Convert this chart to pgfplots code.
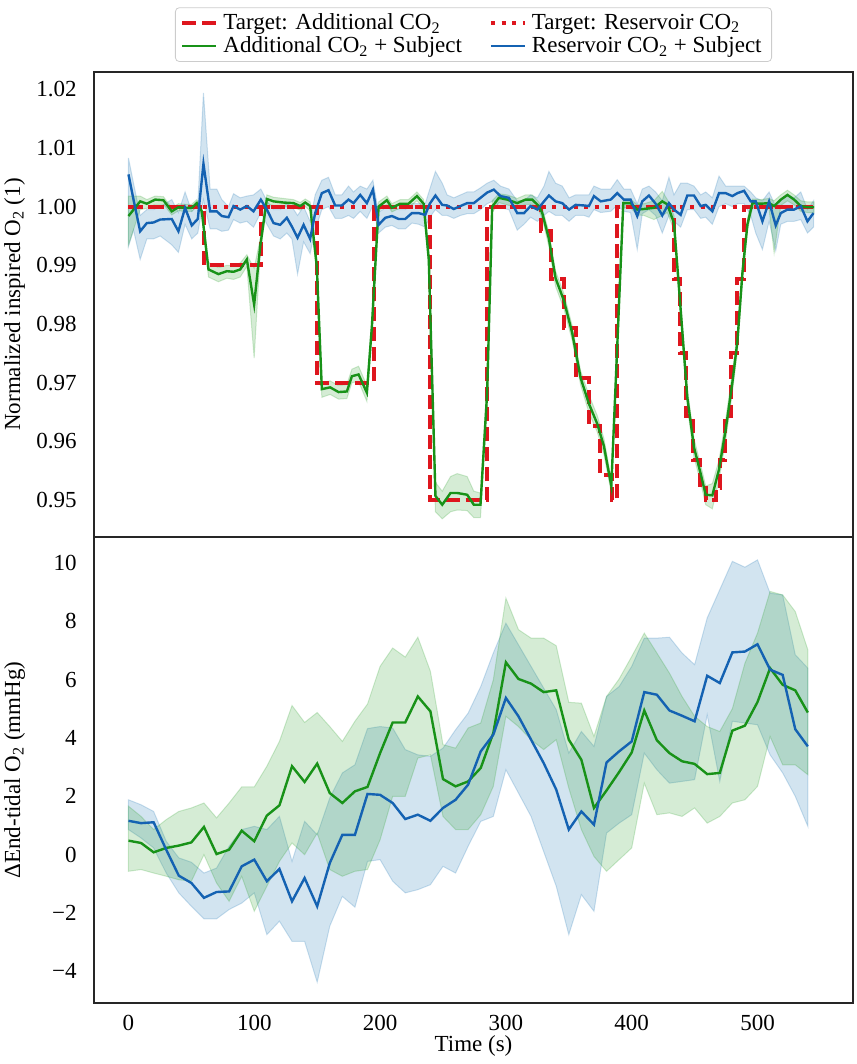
\documentclass[border=0pt]{standalone}
\usepackage{fontspec}
\setmainfont{Liberation Serif}
\newfontfamily\tickfont{Liberation Serif}
\usepackage{pgfplots}
\pgfplotsset{compat=1.18}
\usepackage{pgfplotstable}
\usepgfplotslibrary{fillbetween}

\definecolor{tabblue}{RGB}{31,119,180}
\definecolor{tabgreen}{RGB}{44,160,44}
\definecolor{lblue}{RGB}{20,98,178}
\definecolor{lgreen}{RGB}{24,146,24}
\definecolor{tred}{RGB}{222,22,30}
\newcommand\fs{\fontsize{11.5bp}{13.5bp}\selectfont\rmfamily}
\newcommand\tl[1]{\mbox{\tickfont\fontsize{11.5bp}{13.5bp}\selectfont #1}}

% top panel, Additional CO2 + Subject
\pgfplotstableread{
t m lo hi
0 0.9984 0.9935 1.0018
9.3 1.0009 0.9995 1.0018
14.6 1.0005 0.9997 1.0012
21.2 1.0012 1.0004 1.0018
27.8 1.0011 1.0004 1.0017
34.4 0.9992 0.9986 0.9998
39.7 0.9999 0.9993 1.0005
45 0.9998 0.9992 1.0004
50.3 0.9998 0.9992 1.0004
54.3 1.0006 1.0000 1.0012
58.3 0.9992 0.9985 0.9999
63.6 0.9893 0.9880 0.9905
71.5 0.9885 0.9872 0.9896
78.2 0.9890 0.9878 0.9900
83.5 0.9889 0.9876 0.9900
88.8 0.9893 0.9880 0.9904
94.1 0.9910 0.9898 0.9918
99.9 0.9833 0.9742 0.9895
104.7 0.9932 0.9920 0.9945
110 1.0013 1.0005 1.0020
115.3 1.0009 1.0002 1.0016
123.2 1.0007 1.0000 1.0014
131.2 1.0006 0.9999 1.0012
136.5 1.0001 0.9994 1.0007
140.5 1.0007 1.0000 1.0013
144.4 1.0001 0.9993 1.0008
149.7 0.9898 0.9885 0.9910
153.7 0.9689 0.9675 0.9700
160.3 0.9692 0.9680 0.9703
167 0.9684 0.9672 0.9695
173.6 0.9685 0.9673 0.9697
177.6 0.9711 0.9700 0.9723
182.9 0.9714 0.9702 0.9728
189.5 0.9683 0.9668 0.9695
193.5 0.9796 0.9780 0.9812
198.8 1.0000 0.9992 1.0008
205.4 1.0011 1.0004 1.0018
209.4 0.9998 0.9991 1.0005
216 1.0005 0.9998 1.0012
222.6 1.0005 0.9998 1.0012
229.3 1.0018 1.0010 1.0025
234.6 1.0005 0.9998 1.0012
238.7 0.9910 0.9895 0.9925
244 0.9507 0.9480 0.9530
249.4 0.9492 0.9468 0.9515
256 0.9512 0.9480 0.9540
261.3 0.9512 0.9483 0.9545
269.2 0.9509 0.9482 0.9540
274.5 0.9492 0.9470 0.9515
279.8 0.9492 0.9470 0.9512
285.1 0.9683 0.9665 0.9700
289.1 1.0000 0.9990 1.0010
294.4 1.0015 1.0007 1.0022
301 1.0012 1.0003 1.0020
309 1.0006 0.9998 1.0014
315.6 1.0012 1.0004 1.0020
320.9 1.0012 1.0004 1.0020
326.2 1.0001 0.9993 1.0008
328.9 0.9989 0.9980 0.9997
334.2 0.9945 0.9932 0.9957
339.5 0.9878 0.9864 0.9890
346.1 0.9840 0.9826 0.9852
352.7 0.9785 0.9772 0.9797
359.4 0.9708 0.9696 0.9720
366 0.9664 0.9649 0.9679
372.6 0.9630 0.9616 0.9644
377.9 0.9592 0.9578 0.9605
383.8 0.9524 0.9512 0.9535
388.5 0.9762 0.9748 0.9776
393.3 1.0006 0.9998 1.0013
399.1 1.0006 0.9998 1.0013
404.4 0.9995 0.9986 1.0003
409.7 0.9996 0.9985 1.0005
417.7 0.9998 0.9978 1.0010
424.3 1.0009 0.9985 1.0026
428.3 1.0004 0.9990 1.0012
433.6 0.9972 0.9960 0.9985
438.9 0.9825 0.9810 0.9840
444.2 0.9675 0.9660 0.9690
449.5 0.9590 0.9573 0.9605
454.8 0.9545 0.9530 0.9560
458.8 0.9509 0.9492 0.9524
464.1 0.9508 0.9485 0.9528
469.4 0.9552 0.9534 0.9568
474.7 0.9620 0.9602 0.9637
480 0.9700 0.9683 0.9717
484 0.9770 0.9753 0.9786
488 0.9887 0.9873 0.9900
492 0.9970 0.9960 0.9980
496 1.0006 0.9998 1.0013
502.6 1.0005 0.9997 1.0012
509.2 1.0006 0.9996 1.0014
513.2 1.0001 0.9921 1.0010
518.5 1.0012 1.0002 1.0020
523.8 1.0020 1.0010 1.0028
529.1 1.0012 1.0003 1.0020
534.4 1.0001 0.9992 1.0010
539.7 0.9999 0.9990 1.0008
545 0.9999 0.9990 1.0008
}\gtop

% top panel, Reservoir CO2 + Subject
\pgfplotstableread{
t m lo hi
0 1.0055 0.9932 1.0083
4 1.0012 0.9960 1.0040
9.3 0.9958 0.9910 0.9985
14.6 0.9972 0.9945 0.9995
19.9 0.9973 0.9945 0.9995
25.2 0.9978 0.9950 1.0000
34.4 0.9979 0.9935 1.0012
39.7 0.9958 0.9922 0.9990
45 0.9998 0.9970 1.0025
50.3 0.9968 0.9945 0.9992
55.1 0.9979 0.9955 1.0003
59.6 1.0073 1.0012 1.0194
64.9 0.9992 0.9962 1.0030
70.2 0.9992 0.9962 1.0030
74.2 0.9984 0.9958 1.0012
79.5 0.9982 0.9960 1.0000
83.5 1.0001 0.9978 1.0022
88.8 0.9995 0.9972 1.0015
94.1 1.0001 0.9975 1.0018
99.4 0.9992 0.9965 1.0020
105.2 1.0012 0.9990 1.0030
110 0.9995 0.9970 1.0010
115.3 0.9972 0.9950 0.9995
120.6 0.9969 0.9945 0.9995
125.9 0.9981 0.9955 1.0005
129.9 0.9966 0.9945 1.0000
134.4 0.9947 0.9885 0.9985
139.2 0.9969 0.9940 1.0000
144.4 0.9945 0.9920 0.9975
148.4 0.9989 0.9960 1.0020
153.7 1.0023 0.9995 1.0045
159 1.0028 1.0000 1.0050
164.3 1.0002 0.9980 1.0020
169.6 1.0002 0.9980 1.0020
174.9 1.0012 0.9985 1.0035
178.9 1.0006 0.9980 1.0025
184.2 1.0020 0.9992 1.0035
189.5 1.0006 0.9980 1.0030
194.3 1.0029 1.0002 1.0045
198.8 0.9969 0.9955 0.9990
204.1 0.9981 0.9965 0.9998
209.4 0.9984 0.9968 1.0000
214.7 0.9979 0.9962 0.9995
220 0.9979 0.9962 0.9995
225.3 0.9989 0.9972 1.0005
230.6 0.9989 0.9970 1.0005
235.9 0.9986 0.9965 1.0005
239.5 1.0005 0.9982 1.0030
244 1.0019 0.9995 1.0060
249.4 1.0003 0.9985 1.0040
253.3 1.0002 0.9985 1.0020
258.6 0.9996 0.9980 1.0015
263.9 1.0001 0.9985 1.0020
269.2 1.0006 0.9988 1.0025
274.5 1.0006 0.9988 1.0025
279.8 1.0015 0.9995 1.0032
285.1 1.0024 1.0005 1.0040
290.4 1.0029 1.0010 1.0045
295.7 1.0018 0.9998 1.0035
302.4 1.0015 0.9995 1.0030
309 0.9989 0.9960 1.0010
314.4 0.9989 0.9970 1.0010
319.6 1.0001 0.9982 1.0020
325 0.9995 0.9975 1.0015
330.3 1.0009 0.9985 1.0035
334.2 1.0019 0.9992 1.0060
339.5 1.0009 0.9985 1.0040
344.8 1.0006 0.9985 1.0035
350.2 0.9995 0.9975 1.0015
355.4 1.0003 0.9985 1.0020
362.1 1.0002 0.9985 1.0020
366 1.0001 0.9982 1.0020
370 1.0018 0.9995 1.0035
375.4 1.0009 0.9990 1.0030
383.3 1.0012 0.9992 1.0030
388.5 1.0023 1.0002 1.0046
393.8 1.0012 0.9992 1.0030
399.1 1.0012 0.9990 1.0030
404.4 0.9984 0.9927 1.0005
408.4 1.0009 0.9988 1.0030
413.7 1.0019 0.9995 1.0035
419 1.0005 0.9985 1.0025
424.3 0.9985 0.9955 1.0010
429.6 1.0006 0.9985 1.0050
433.6 0.9995 0.9975 1.0020
438.9 0.9986 0.9965 1.0040
444.2 1.0019 0.9995 1.0040
449.5 1.0019 0.9995 1.0035
454.8 1.0001 0.9980 1.0020
458.8 1.0003 0.9982 1.0025
464.1 0.9992 0.9970 1.0015
469.4 1.0023 1.0000 1.0052
474.7 1.0023 1.0005 1.0035
480 1.0018 1.0000 1.0035
484 1.0023 1.0005 1.0035
489.3 1.0027 1.0005 1.0035
494.6 1.0009 0.9985 1.0025
498.6 1.0009 0.9955 1.0015
503.9 0.9975 0.9927 1.0010
509.2 1.0009 0.9975 1.0025
514.5 0.9968 0.9925 1.0000
518.5 0.9989 0.9970 1.0010
523.8 0.9995 0.9975 1.0020
529.1 0.9995 0.9975 1.0015
534.4 1.0001 0.9978 1.0025
539.7 0.9975 0.9955 0.9995
544.5 0.9989 0.9965 1.0010
}\btop

% bottom panel, Additional CO2 + Subject
\pgfplotstableread{
t m lo hi
0 0.48 -0.57 1.66
10 0.40 -0.51 1.31
20 0.08 -0.63 0.86
30 0.23 -0.74 1.20
40 0.31 -0.86 1.48
50 0.42 -0.91 1.60
60 0.95 0.00 1.77
70 0.02 -0.97 1.26
80 0.17 -1.60 1.77
90 0.82 -0.74 2.32
100 0.46 -1.94 2.32
110 1.34 -1.08 3.03
120 1.69 -0.23 3.88
130 3.03 0.40 5.11
140 2.49 0.00 4.53
150 3.12 0.74 4.87
160 2.11 -0.51 4.39
170 1.77 -0.74 3.88
180 2.17 -0.57 4.57
190 2.32 -0.51 5.16
200 3.48 0.51 6.45
210 4.53 2.00 7.08
220 4.53 2.00 6.77
230 5.42 3.31 7.45
240 4.91 3.42 6.28
250 2.59 1.31 3.77
260 2.34 0.86 3.65
270 2.51 0.86 4.34
280 2.97 1.37 4.51
290 4.17 2.34 5.99
300 6.59 4.74 8.79
310 6.02 4.39 7.71
320 5.86 3.94 7.42
330 5.57 3.60 7.42
340 5.63 3.94 7.16
350 3.94 2.28 5.22
360 3.25 0.86 5.19
370 1.60 -0.06 4.05
380 2.20 -0.57 5.42
390 2.83 -0.17 6.02
400 3.50 0.23 6.79
410 4.94 2.45 7.59
420 3.92 1.37 6.91
430 3.48 1.43 6.22
440 3.20 1.31 5.42
450 3.11 1.60 4.74
460 2.76 1.08 4.39
470 2.80 1.31 4.22
480 4.25 1.77 5.00
490 4.42 1.88 6.56
500 5.23 2.34 7.59
510 6.39 4.05 9.02
520 5.82 3.08 8.90
530 5.63 3.08 8.33
540 4.87 2.74 7.02
}\gbot

% bottom panel, Reservoir CO2 + Subject
\pgfplotstableread{
t m lo hi
0 1.16 0.86 1.88
10 1.08 0.57 1.71
20 1.11 0.23 1.48
30 0.17 -0.63 0.46
40 -0.72 -1.31 -0.11
50 -0.97 -1.77 -0.26
60 -1.48 -2.20 -0.63
70 -1.28 -2.20 -0.46
80 -1.26 -1.88 0.29
90 -0.40 -1.66 0.86
100 -0.17 -1.31 0.97
110 -0.91 -2.74 0.86
120 -0.49 -2.28 1.31
130 -1.60 -2.97 -0.23
140 -0.80 -2.97 1.14
150 -1.77 -4.37 0.68
160 -0.29 -2.45 1.94
170 0.68 -1.43 2.80
180 0.68 -1.80 3.08
190 2.08 -0.23 4.32
200 2.05 -0.17 4.39
210 1.77 -0.91 4.34
220 1.22 -1.31 3.60
230 1.37 -1.20 3.42
240 1.16 -1.03 3.37
250 1.60 -0.40 3.65
260 1.88 -0.63 4.28
270 2.40 0.29 4.85
280 3.54 1.14 5.76
290 4.11 1.31 6.91
300 5.37 2.91 7.93
310 4.74 2.11 7.19
320 3.94 1.31 6.45
330 3.14 0.11 5.71
340 2.23 -1.08 4.97
350 0.86 -2.74 3.48
360 1.48 -1.37 4.22
370 1.03 -1.94 3.71
380 3.16 0.74 5.42
390 3.54 1.08 5.76
400 3.88 1.37 6.45
410 5.57 3.48 7.42
420 5.48 2.91 7.42
430 4.94 2.45 7.45
440 4.76 2.51 6.91
450 4.57 2.57 6.51
460 6.13 4.79 8.11
470 5.88 2.51 9.08
480 6.93 4.57 10.05
490 6.96 4.51 9.85
500 7.21 4.45 10.10
510 6.34 3.42 8.96
520 6.16 2.80 8.90
530 4.30 2.00 6.85
540 3.71 0.97 6.39
}\bbot

\pgfplotsset{
  panel/.style={
    scale only axis, width=379.5bp,
    xmin=-27.4, xmax=575.9,
    xtick={0,100,200,300,400,500},
    major tick length=0pt, minor tick num=0,
    axis line style={line width=1.1bp, draw=black!85},
    tick label style={font=\fs},
    yticklabel style={inner sep=0pt, xshift=-8.5bp},
    xticklabel style={inner sep=0pt, yshift=-6bp},
    every axis y label/.style={at={(axis description cs:-0.119,0.5)}, rotate=90, anchor=north, inner sep=0pt, font=\fs},
    every axis x label/.style={at={(axis description cs:0.5,0)}, anchor=north, inner sep=0pt, yshift=-16.2bp, font=\fs},
    clip=true,
  },
  bandG/.style={fill=tabgreen, fill opacity=0.2, draw=tabgreen, draw opacity=0.22, line width=0.5bp, forget plot},
  bandB/.style={fill=tabblue, fill opacity=0.2, draw=tabblue, draw opacity=0.22, line width=0.5bp, forget plot},
}

\begin{document}
\begin{tikzpicture}

% ---------------- top panel ----------------
\begin{axis}[panel,
  at={(47bp,263.5bp)}, anchor=south west, height=232.5bp,
  ymin=0.9437, ymax=1.02295,
  ytick={0.95,0.96,0.97,0.98,0.99,1.00,1.01,1.02},
  yticklabels={\tl{0.95},\tl{0.96},\tl{0.97},\tl{0.98},\tl{0.99},\tl{1.00},\tl{1.01},\tl{1.02}},
  xticklabels={},
  ylabel={Normalized inspired O\textsubscript{2} (1)},
  legend columns=2,
  legend cell align=left,
  legend style={at={(axis description cs:0.5,1)}, anchor=south, yshift=5bp,
    draw=black!20, rounded corners=2bp, fill=white, font=\fs,
    inner xsep=2.5bp, inner ysep=2bp,
    nodes={inner xsep=2.5bp, inner ysep=1bp},
    /tikz/every even column/.append style={column sep=11bp}},
  legend image code/.code={\draw[#1] (0bp,0bp) -- (17bp,0bp);},
]
\addlegendimage{tred, line width=2bp, dash pattern=on 7bp off 3bp}
\addlegendentry{Target: Additional CO\textsubscript{2}}
\addlegendimage{tred, line width=2bp, dash pattern=on 2bp off 3.3bp}
\addlegendentry{Target: Reservoir CO\textsubscript{2}}
\addlegendimage{lgreen, line width=1.2bp}
\addlegendentry{Additional CO\textsubscript{2} + Subject}
\addlegendimage{lblue, line width=1.2bp}
\addlegendentry{Reservoir CO\textsubscript{2} + Subject}

\addplot[name path=btu, draw=none, forget plot] table[x=t,y=hi]{\btop};
\addplot[name path=btl, draw=none, forget plot] table[x=t,y=lo]{\btop};
\addplot[bandB] fill between[of=btu and btl];
\addplot[name path=gtu, draw=none, forget plot] table[x=t,y=hi]{\gtop};
\addplot[name path=gtl, draw=none, forget plot] table[x=t,y=lo]{\gtop};
\addplot[bandG] fill between[of=gtu and gtl];

% target: additional CO2
\addplot[tred, line width=2bp, dash pattern=on 7bp off 3bp, forget plot] coordinates {
(0,1) (60,1) (60,0.99) (105,0.99) (105,1) (150,1) (150,0.97) (195,0.97) (195,1)
(240,1) (240,0.95) (285,0.95) (285,1) (328,1)
(328,0.9958) (336,0.9958) (336,0.9876) (346,0.9876) (346,0.9793) (356,0.9793)
(356,0.9708) (366,0.9708) (366,0.9626) (375,0.9626) (375,0.9543) (384,0.9543)
(384,0.95) (388.5,0.95) (388.5,1) (433.5,1)
(433.5,0.9876) (438.5,0.9876) (438.5,0.9751) (443.5,0.9751) (443.5,0.9643) (449,0.9643)
(449,0.9569) (454,0.9569) (454,0.9521) (459,0.9521) (459,0.95) (467,0.95)
(467,0.9521) (470.5,0.9521) (470.5,0.9569) (474.5,0.9569) (474.5,0.9643) (479,0.9643)
(479,0.9751) (484,0.9751) (484,0.9876) (489,0.9876) (489,1) (547,1)
};
% target: reservoir CO2
\addplot[tred, line width=2bp, dash pattern=on 2bp off 3.3bp, forget plot] coordinates {(0,1) (547,1)};

\addplot[lgreen, line width=1.2bp, forget plot] table[x=t,y=m]{\gtop};
\addplot[lblue, line width=1.2bp, forget plot] table[x=t,y=m]{\btop};
\end{axis}

% ---------------- bottom panel ----------------
\begin{axis}[panel,
  at={(47bp,30.5bp)}, anchor=south west, height=233bp,
  ymin=-5.083, ymax=10.885,
  ytick={-4,-2,0,2,4,6,8,10},
  yticklabels={\tl{−4},\tl{−2},\tl{0},\tl{2},\tl{4},\tl{6},\tl{8},\tl{10}},
  xticklabels={\tl{0},\tl{100},\tl{200},\tl{300},\tl{400},\tl{500}},
  xlabel={Time (s)},
  ylabel={ΔEnd-tidal O\textsubscript{2} (mmHg)},
]
\addplot[name path=bbu, draw=none, forget plot] table[x=t,y=hi]{\bbot};
\addplot[name path=bbl, draw=none, forget plot] table[x=t,y=lo]{\bbot};
\addplot[bandB] fill between[of=bbu and bbl];
\addplot[name path=gbu, draw=none, forget plot] table[x=t,y=hi]{\gbot};
\addplot[name path=gbl, draw=none, forget plot] table[x=t,y=lo]{\gbot};
\addplot[bandG] fill between[of=gbu and gbl];

\addplot[lgreen, line width=1.2bp, forget plot] table[x=t,y=m]{\gbot};
\addplot[lblue, line width=1.2bp, forget plot] table[x=t,y=m]{\bbot};
\end{axis}

\pgfresetboundingbox
\path[use as bounding box] (0,0) rectangle (428.5bp,532bp);
\end{tikzpicture}
\end{document}
